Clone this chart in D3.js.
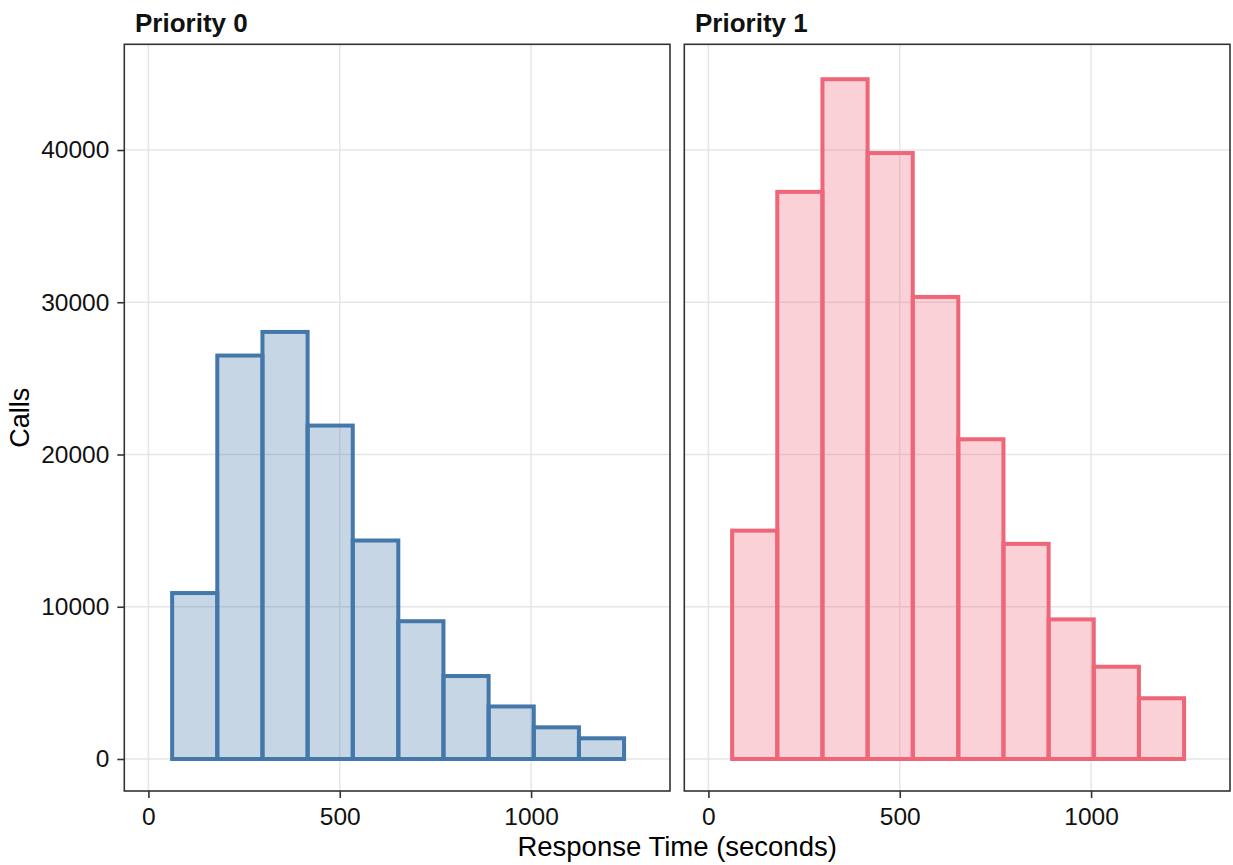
<!DOCTYPE html>
<html>
<head>
<meta charset="utf-8">
<script src="https://cdn.jsdelivr.net/npm/d3@7"></script>
<style>
  body { margin: 0; background: #fff; }
  svg { display: block; font-family: "Liberation Sans", Arial, sans-serif; }
</style>
</head>
<body>
<svg width="1233" height="865"></svg>
<script>
// histogram bins (seconds) shared by both facets
const binEdges = [62, 180, 298, 416, 534, 653, 771, 889, 1007, 1125, 1243];
const priority0Calls = [10900, 26500, 28050, 21900, 14350, 9050, 5450, 3450, 2080, 1360];
const priority1Calls = [15000, 37250, 44650, 39800, 30350, 21000, 14130, 9170, 6060, 3990];
const panelTitles = ["Priority 0", "Priority 1"];
const panelColors = ["#4477AA", "#EE6677"];
const xTicks = [0, 500, 1000];
const yTicks = [0, 10000, 20000, 30000, 40000];

const panels = [
  { title: panelTitles[0], color: panelColors[0], calls: priority0Calls, left: 124.3 },
  { title: panelTitles[1], color: panelColors[1], calls: priority1Calls, left: 684.3 }
];
const panelWidth = 545.7;
const panelTop = 44.3, panelBottom = 791;

const svg = d3.select('svg');

const y = d3.scaleLinear().domain([-2102, 46943]).range([panelBottom, panelTop]);

panels.forEach((p, idx) => {
  const x = d3.scaleLinear().domain([-63, 1363]).range([p.left, p.left + panelWidth]);
  const g = svg.append('g').classed('panel', true);

  // grid
  g.selectAll('.hgrid').data(yTicks).join('line')
    .attr('x1', p.left).attr('x2', p.left + panelWidth)
    .attr('y1', d => y(d)).attr('y2', d => y(d))
    .attr('stroke', '#E6E6E6').attr('stroke-width', 1.5);
  g.selectAll('.vgrid').data(xTicks).join('line')
    .attr('y1', panelTop).attr('y2', panelBottom)
    .attr('x1', d => x(d)).attr('x2', d => x(d))
    .attr('stroke', '#E6E6E6').attr('stroke-width', 1.5);

  // bars
  const bins = p.calls.map((v, i) => ({ x0: binEdges[i], x1: binEdges[i + 1], v }));
  g.selectAll('.bar').data(bins).join('rect')
    .classed('bar', true)
    .attr('x', d => x(d.x0))
    .attr('width', d => x(d.x1) - x(d.x0))
    .attr('y', d => y(d.v))
    .attr('height', d => y(0) - y(d.v))
    .attr('fill', p.color).attr('fill-opacity', 0.3)
    .attr('stroke', p.color).attr('stroke-width', 4);

  // border
  g.append('rect')
    .attr('x', p.left).attr('y', panelTop)
    .attr('width', panelWidth).attr('height', panelBottom - panelTop)
    .attr('fill', 'none').attr('stroke', '#333').attr('stroke-width', 1.6);

  // x axis
  const xAxis = svg.append('g')
    .attr('transform', `translate(0,${panelBottom})`)
    .call(d3.axisBottom(x).tickValues(xTicks).tickSize(7).tickPadding(10).tickFormat(d3.format('d')));
  xAxis.select('.domain').remove();
  xAxis.selectAll('line').attr('stroke', '#333').attr('stroke-width', 1.6);
  xAxis.selectAll('text').attr('font-size', 24.5).attr('fill', '#111').attr('font-family', 'Liberation Sans, Arial, sans-serif');

  // strip title
  svg.append('text')
    .attr('x', p.left + 10.7).attr('y', 32.3)
    .attr('font-size', 26).attr('font-weight', 'bold').attr('fill', '#111')
    .text(p.title);

  if (idx === 0) {
    const yAxis = svg.append('g')
      .attr('transform', `translate(${p.left},0)`)
      .call(d3.axisLeft(y).tickValues(yTicks).tickSize(7).tickPadding(8).tickFormat(d3.format('d')));
    yAxis.select('.domain').remove();
    yAxis.selectAll('line').attr('stroke', '#333').attr('stroke-width', 1.6);
    yAxis.selectAll('text').attr('font-size', 24.5).attr('fill', '#111').attr('font-family', 'Liberation Sans, Arial, sans-serif');
  }
});

// axis titles
svg.append('text')
  .attr('x', (124.3 + 684.3 + panelWidth) / 2).attr('y', 856)
  .attr('text-anchor', 'middle').attr('font-size', 27.5).attr('fill', '#000')
  .text('Response Time (seconds)');

svg.append('text')
  .attr('transform', `translate(28.5,${(panelTop + panelBottom) / 2}) rotate(-90)`)
  .attr('text-anchor', 'middle').attr('font-size', 27).attr('fill', '#000')
  .text('Calls');
</script>
</body>
</html>
